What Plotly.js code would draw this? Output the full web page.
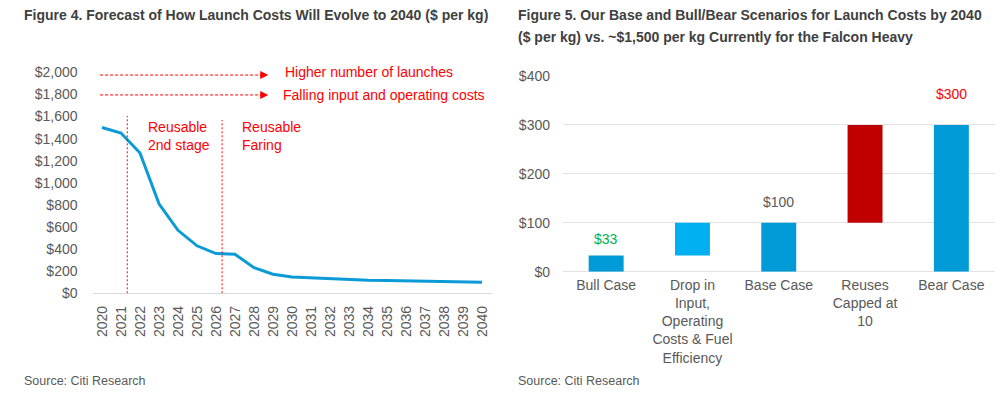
<!DOCTYPE html>
<html>
<head>
<meta charset="utf-8">
<script src="https://cdn.plot.ly/plotly-3.0.1.min.js"></script>
<style>html,body{margin:0;padding:0;background:#fff;}#chart{width:1006px;height:395px;}</style>
</head>
<body>
<div id="chart"></div>
<script>
// ---- Data ----
const years = ['2020','2021','2022','2023','2024','2025','2026','2027','2028','2029','2030',
               '2031','2032','2033','2034','2035','2036','2037','2038','2039','2040'];
const costPerKg = [1500, 1450, 1270, 810, 570, 430, 360, 353, 232, 172, 148,
                   139, 133, 124, 118, 115, 111, 109, 106, 102, 100];
const leftTicks = [0, 200, 400, 600, 800, 1000, 1200, 1400, 1600, 1800, 2000];

const scenarios = ['Bull Case', 'Drop in<br>Input,<br>Operating<br>Costs & Fuel<br>Efficiency',
                   'Base Case', 'Reuses<br>Capped at<br>10', 'Bear Case'];
const scenarioBottom = [0, 33, 0, 100, 0];
const scenarioTop = [33, 100, 100, 300, 300];
const rightTicks = [0, 100, 200, 300, 400];

// ---- Helpers (pixel -> paper) ----
const W = 1006, H = 395;
const px = v => v / W;
const py = v => (H - v) / H;
const money = v => '$' + v.toLocaleString('en-US');

const FONT = 'Liberation Sans';
const GRAY = '#595959';
const RED = '#ff0000';
const BLUE = '#0a9bd6';

const traces = [
  {
    type: 'scatter', mode: 'lines', x: years, y: costPerKg,
    xaxis: 'x', yaxis: 'y',
    line: {color: BLUE, width: 3}, hoverinfo: 'skip', showlegend: false
  },
  {
    type: 'bar', x: scenarios,
    y: scenarioTop.map((t, i) => t - scenarioBottom[i]),
    base: scenarioBottom,
    xaxis: 'x2', yaxis: 'y2', width: 0.405,
    marker: {color: ['#009ad6', '#00b0f0', '#009ad6', '#c00000', '#009ad6'], line: {width: 0}},
    hoverinfo: 'skip', showlegend: false
  }
];

const titleFont = {family: FONT, size: 14, color: '#404040', weight: 'bold'};
const srcFont = {family: FONT, size: 12.5, color: GRAY};

const annotations = [
  // titles
  {xref: 'paper', yref: 'paper', x: px(22), y: py(15), xanchor: 'left', yanchor: 'middle', showarrow: false,
   text: 'Figure 4. Forecast of How Launch Costs Will Evolve to 2040 ($ per kg)', font: titleFont},
  {xref: 'paper', yref: 'paper', x: px(516), y: py(15), xanchor: 'left', yanchor: 'middle', showarrow: false,
   text: 'Figure 5. Our Base and Bull/Bear Scenarios for Launch Costs by 2040', font: titleFont},
  {xref: 'paper', yref: 'paper', x: px(516), y: py(37), xanchor: 'left', yanchor: 'middle', showarrow: false,
   text: '($ per kg) vs. ~$1,500 per kg Currently for the Falcon Heavy', font: titleFont},
  // sources
  {xref: 'paper', yref: 'paper', x: px(22), y: py(381), xanchor: 'left', yanchor: 'middle', showarrow: false,
   text: 'Source: Citi Research', font: srcFont},
  {xref: 'paper', yref: 'paper', x: px(516), y: py(381), xanchor: 'left', yanchor: 'middle', showarrow: false,
   text: 'Source: Citi Research', font: srcFont},
  // left chart text
  {xref: 'x', yref: 'y', x: 9.5, y: 2000, xanchor: 'left', yanchor: 'middle', showarrow: false,
   text: 'Higher number of launches', font: {family: FONT, size: 14, color: RED}},
  {xref: 'x', yref: 'y', x: 9.4, y: 1795, xanchor: 'left', yanchor: 'middle', showarrow: false,
   text: 'Falling input and operating costs', font: {family: FONT, size: 14, color: RED}},
  {xref: 'x', yref: 'y', x: 2.3, y: 1420, xanchor: 'left', yanchor: 'middle', showarrow: false, align: 'left',
   text: 'Reusable<br>2nd stage', font: {family: FONT, size: 14, color: RED}},
  {xref: 'x', yref: 'y', x: 7.25, y: 1420, xanchor: 'left', yanchor: 'middle', showarrow: false, align: 'left',
   text: 'Reusable<br>Faring', font: {family: FONT, size: 14, color: RED}},
  // arrow heads
  {xref: 'x', yref: 'y', x: 8.75, y: 1975, ax: -10, ay: 0, text: '', showarrow: true,
   arrowhead: 2, arrowsize: 1.6, arrowwidth: 1, arrowcolor: RED, standoff: 0},
  {xref: 'x', yref: 'y', x: 8.75, y: 1795, ax: -10, ay: 0, text: '', showarrow: true,
   arrowhead: 2, arrowsize: 1.6, arrowwidth: 1, arrowcolor: RED, standoff: 0},
  // right data labels
  {xref: 'x2', yref: 'y2', x: 0, y: scenarioTop[0], yshift: 17, showarrow: false,
   text: money(scenarioTop[0]), font: {family: FONT, size: 14, color: '#00b050'}},
  {xref: 'x2', yref: 'y2', x: 2, y: scenarioTop[2], yshift: 21, showarrow: false,
   text: money(scenarioTop[2]), font: {family: FONT, size: 14, color: GRAY}},
  {xref: 'x2', yref: 'y2', x: 4, y: scenarioTop[4], yshift: 31, showarrow: false,
   text: money(scenarioTop[4]), font: {family: FONT, size: 14, color: RED}}
];

const shapes = [
  {type: 'line', xref: 'x', yref: 'y', x0: 1.33, x1: 1.33, y0: 0, y1: 1605,
   line: {color: RED, width: 1, dash: '2px,2px'}},
  {type: 'line', xref: 'x', yref: 'y', x0: 6.32, x1: 6.32, y0: 0, y1: 1568,
   line: {color: RED, width: 1, dash: '2px,2px'}},
  {type: 'line', xref: 'x', yref: 'y', x0: -0.1, x1: 8.5, y0: 1975, y1: 1975,
   line: {color: RED, width: 1, dash: '3px,2px'}},
  {type: 'line', xref: 'x', yref: 'y', x0: -0.1, x1: 8.5, y0: 1795, y1: 1795,
   line: {color: RED, width: 1, dash: '3px,2px'}}
];

const layout = {
  width: W, height: H,
  margin: {l: 0, r: 0, t: 0, b: 0},
  paper_bgcolor: '#fff', plot_bgcolor: '#fff',
  font: {family: FONT, size: 14, color: GRAY},
  showlegend: false,
  xaxis: {
    domain: [px(92.5), px(491.5)], type: 'category', range: [-0.5, 20.5],
    tickangle: -90, showgrid: false, zeroline: false,
    showline: true, linecolor: '#d9d9d9', linewidth: 1,
    ticks: '', ticklabelstandoff: 6, tickfont: {family: FONT, size: 14, color: GRAY},
    fixedrange: true
  },
  yaxis: {
    domain: [py(293.3), py(72.3)], range: [0, 2000],
    tickvals: leftTicks, ticktext: leftTicks.map(money),
    showgrid: false, zeroline: false, showline: false, ticks: '',
    ticklabelstandoff: 14, tickfont: {family: FONT, size: 14, color: GRAY},
    fixedrange: true
  },
  xaxis2: {
    domain: [px(563), px(994.5)], type: 'category', range: [-0.5, 4.5],
    anchor: 'y2', showgrid: false, zeroline: false, showline: false, ticks: '',
    tickangle: 0, ticklabelstandoff: 3, tickfont: {family: FONT, size: 14, color: GRAY},
    fixedrange: true
  },
  yaxis2: {
    domain: [py(271.7), py(76)], range: [0, 400], anchor: 'x2',
    tickvals: rightTicks, ticktext: rightTicks.map(money),
    showgrid: true, gridcolor: '#e3e3e3', gridwidth: 1,
    zeroline: true, zerolinecolor: '#e3e3e3', zerolinewidth: 1,
    showline: false, ticks: '',
    ticklabelstandoff: 12, tickfont: {family: FONT, size: 14, color: GRAY},
    fixedrange: true
  },
  annotations: annotations,
  shapes: shapes
};

Plotly.newPlot('chart', traces, layout, {displayModeBar: false, staticPlot: true});
</script>
</body>
</html>
